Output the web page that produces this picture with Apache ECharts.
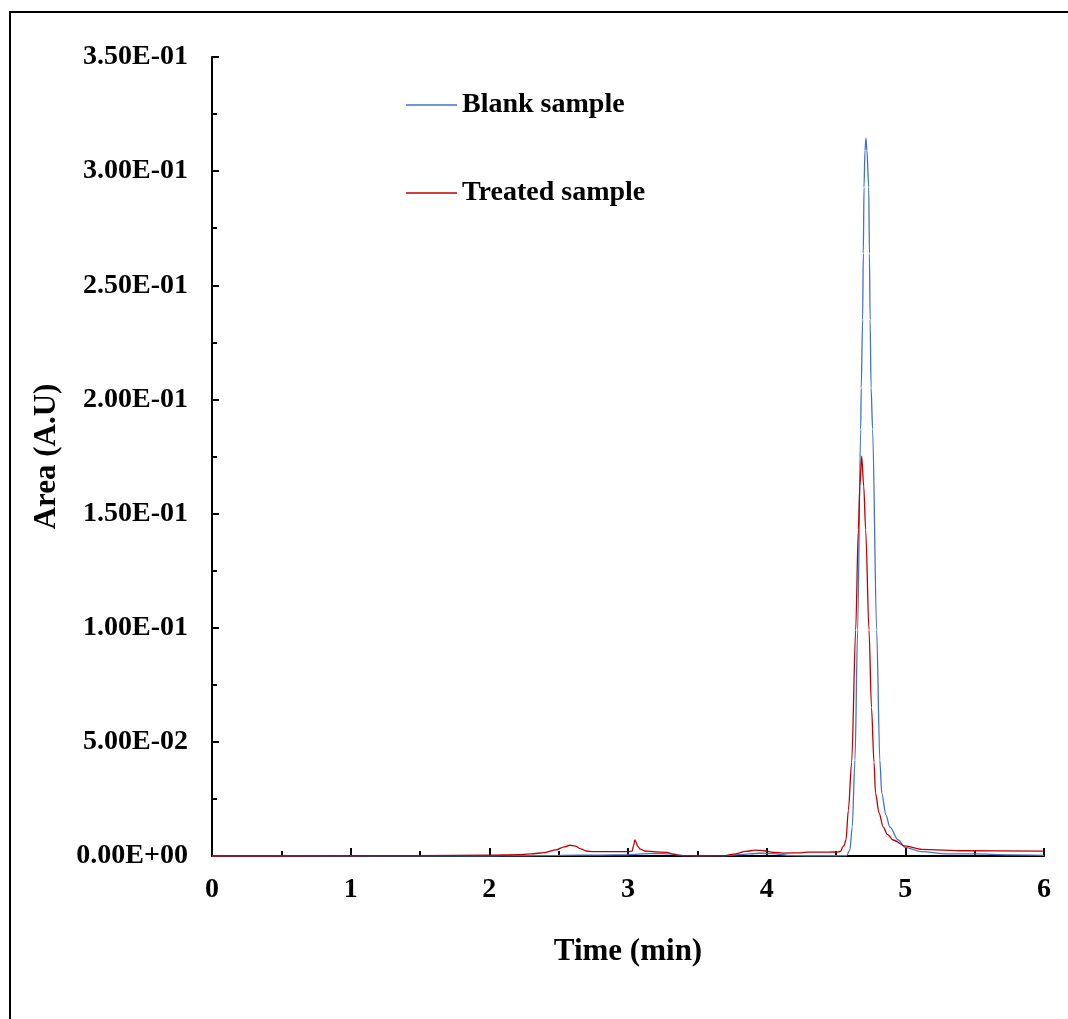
<!DOCTYPE html>
<html>
<head>
<meta charset="utf-8">
<script src="https://cdn.jsdelivr.net/npm/echarts@6/dist/echarts.min.js"></script>
<style>
html,body{margin:0;padding:0;background:#fff;}
#chart{width:1068px;height:1019px;}
</style>
</head>
<body>
<div id="chart"></div>
<script>
// ---- data ----
var seriesNames = ['Blank sample', 'Treated sample'];

var blankTime = [0, 1, 2, 2.2, 2.5, 2.8, 3.0, 3.1, 3.2, 3.3, 3.4, 3.5, 3.7, 3.8, 3.95, 4.05, 4.15, 4.3, 4.5, 4.577, 4.600, 4.617, 4.637, 4.656, 4.678, 4.682, 4.692, 4.697, 4.702, 4.709, 4.716, 4.723, 4.736, 4.741, 4.746, 4.753, 4.764, 4.793, 4.816, 4.830, 4.860, 4.888, 4.949, 4.997, 5.117, 5.31, 5.5, 5.75, 6.0];
var blankArea = [0, 0, 0, 0.0001, 0.0003, 0.0004, 0.0005, 0.0009, 0.0011, 0.0009, 0.0002, 0.0001, 0.0001, 0.0006, 0.0012, 0.0010, 0.0003, 0.0001, 0.0001, 0.0002, 0.0026, 0.0128, 0.042, 0.099, 0.187, 0.205, 0.235, 0.264, 0.293, 0.309, 0.3144, 0.309, 0.293, 0.264, 0.235, 0.205, 0.187, 0.099, 0.042, 0.0275, 0.018, 0.0128, 0.0070, 0.0038, 0.0019, 0.0009, 0.0009, 0.0005, 0.0003];

var treatedTime = [0, 0.5, 1.0, 1.5, 2.0, 2.2, 2.3, 2.4, 2.48, 2.54, 2.58, 2.62, 2.66, 2.70, 2.75, 2.9, 3.0, 3.03, 3.04, 3.05, 3.06, 3.07, 3.09, 3.12, 3.2, 3.28, 3.33, 3.37, 3.45, 3.6, 3.70, 3.76, 3.85, 3.92, 3.98, 4.05, 4.12, 4.25, 4.3, 4.45, 4.52, 4.536, 4.548, 4.558, 4.572, 4.589, 4.613, 4.642, 4.661, 4.672, 4.685, 4.700, 4.714, 4.738, 4.756, 4.774, 4.785, 4.81, 4.840, 4.87, 4.912, 4.997, 5.118, 5.43, 6.0];
var treatedArea = [0, 0, 0.0001, 0.0002, 0.0004, 0.0006, 0.0009, 0.0015, 0.0027, 0.0040, 0.0047, 0.0043, 0.0031, 0.0022, 0.0019, 0.0019, 0.0019, 0.0021, 0.0045, 0.0070, 0.0058, 0.0042, 0.0030, 0.0022, 0.0018, 0.0016, 0.0008, 0.0002, 0.0001, 0.0001, 0.0002, 0.0008, 0.0020, 0.0026, 0.0023, 0.0016, 0.0013, 0.0014, 0.0017, 0.0017, 0.0018, 0.0022, 0.0040, 0.0045, 0.0070, 0.0200, 0.0410, 0.0990, 0.1430, 0.1620, 0.1752, 0.1620, 0.1430, 0.0990, 0.065, 0.0410, 0.0275, 0.019, 0.0128, 0.0095, 0.0070, 0.0044, 0.0029, 0.0023, 0.0021];

var xTicks = {min: 0, max: 6, interval: 1};
var yTicks = {min: 0, max: 0.35, interval: 0.05};

function zip(a, b) { return a.map(function (v, i) { return [v, b[i]]; }); }
function sci(v) {
  if (Math.abs(v) < 1e-12) return '0.00E+00';
  var e = Math.floor(Math.log10(Math.abs(v)) + 1e-9);
  var m = v / Math.pow(10, e);
  if (Math.abs(m) >= 9.995) { m /= 10; e++; }
  return m.toFixed(2) + 'E' + (e < 0 ? '-' : '+') + String(Math.abs(e)).padStart(2, '0');
}

var FONT = '"Liberation Serif", "Times New Roman", serif';
var chart = echarts.init(document.getElementById('chart'));
chart.setOption({
  animation: false,
  backgroundColor: '#fff',
  graphic: [{
    type: 'rect', silent: true,
    shape: {x: 10, y: 12, width: 1200, height: 1200},
    style: {fill: 'none', stroke: '#000', lineWidth: 2}
  }],
  grid: {left: 212, right: 24, top: 57, bottom: 163},
  legend: {
    orient: 'vertical', left: 406, top: 91, itemGap: 60, padding: 0,
    itemWidth: 51, itemHeight: 1.5, icon: 'rect',
    textStyle: {fontFamily: FONT, fontWeight: 'bold', fontSize: 28, color: '#000', lineHeight: 28},
    data: seriesNames
  },
  xAxis: {
    type: 'value', min: xTicks.min, max: xTicks.max, interval: xTicks.interval,
    name: 'Time (min)', nameLocation: 'middle', nameGap: 80,
    nameTextStyle: {fontFamily: FONT, fontWeight: 'bold', fontSize: 31, color: '#000'},
    axisLine: {show: true, lineStyle: {color: '#000', width: 2}},
    axisTick: {show: true, inside: true, length: 8, lineStyle: {color: '#000', width: 2}},
    minorTick: {show: true, splitNumber: 2, length: 5, lineStyle: {color: '#000', width: 2}},
    splitLine: {show: false},
    axisLabel: {margin: 20, fontFamily: FONT, fontWeight: 'bold', fontSize: 28, color: '#000'}
  },
  yAxis: {
    type: 'value', min: yTicks.min, max: yTicks.max, interval: yTicks.interval,
    name: 'Area (A.U)', nameLocation: 'middle', nameGap: 150,
    nameTextStyle: {fontFamily: FONT, fontWeight: 'bold', fontSize: 31, color: '#000'},
    axisLine: {show: true, lineStyle: {color: '#000', width: 2}},
    axisTick: {show: true, inside: true, length: 7, lineStyle: {color: '#000', width: 2}},
    minorTick: {show: true, splitNumber: 2, length: 5, lineStyle: {color: '#000', width: 2}},
    splitLine: {show: false},
    axisLabel: {margin: 24, fontFamily: FONT, fontWeight: 'bold', fontSize: 28, color: '#000', formatter: sci}
  },
  series: [{
    name: seriesNames[0], type: 'line', data: zip(blankTime, blankArea),
    showSymbol: false, symbol: 'none', smooth: 0.3, smoothMonotone: 'x',
    color: '#4472C4', lineStyle: {color: '#4472C4', width: 1.3}, z: 3
  }, {
    name: seriesNames[1], type: 'line', data: zip(treatedTime, treatedArea),
    showSymbol: false, symbol: 'none', smooth: 0.3, smoothMonotone: 'x',
    color: '#C00000', lineStyle: {color: '#C00000', width: 1.3}, z: 4
  }]
});
</script>
</body>
</html>
